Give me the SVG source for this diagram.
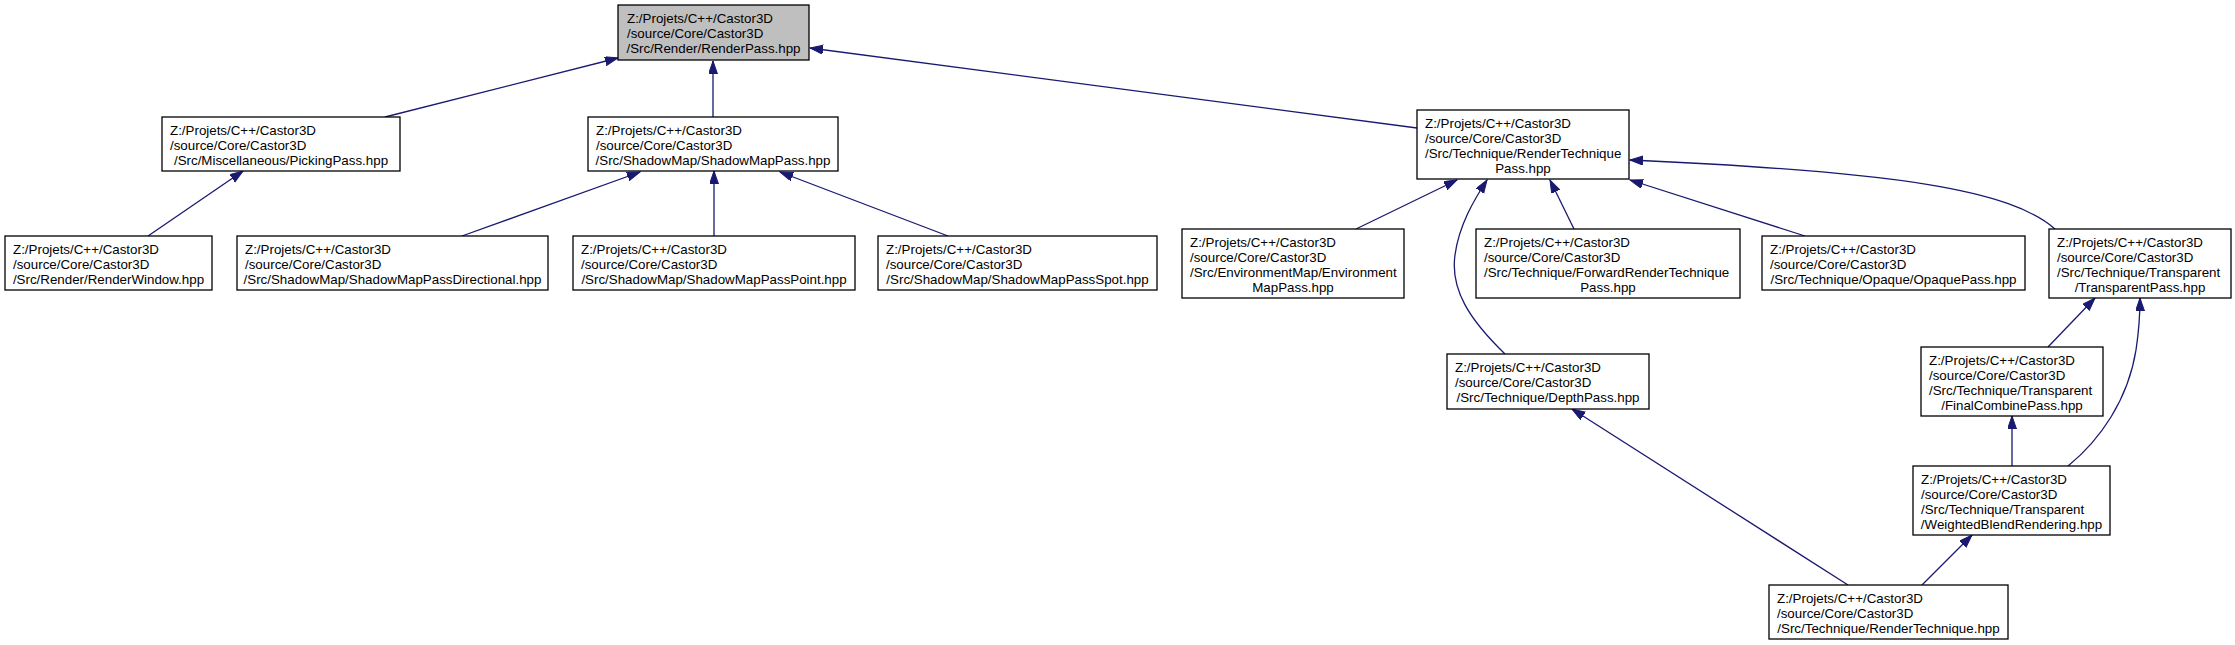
<svg xmlns="http://www.w3.org/2000/svg" width="2235" height="645" viewBox="0 0 2235 645">
<style>
.n rect{fill:#ffffff;stroke:#000000;stroke-width:1.3}
.root rect{fill:#bfbfbf}
.n text{font-family:"Liberation Sans",Arial,sans-serif;font-size:13.33px;fill:#000000}
.n text.c{text-anchor:middle}
.e path{fill:none;stroke:#191970;stroke-width:1.3;marker-end:url(#arr)}
</style>
<defs>
<marker id="arr" markerUnits="userSpaceOnUse" markerWidth="14" markerHeight="10" refX="13" refY="4.5" orient="auto">
<path d="M0,0 L13,4.5 L0,9 z" fill="#191970" stroke="#191970" stroke-width="1"/>
</marker>
</defs>
<rect width="2235" height="645" fill="#ffffff"/>
<g class="e" id="edges">
<path d="M385,117 L618,58"/>
<path d="M713,117 L713,61"/>
<path d="M1417,128 L810,48"/>
<path d="M148,236 L243,171"/>
<path d="M462,236 L640,172"/>
<path d="M714,236 L714,171"/>
<path d="M948,236 L780,172"/>
<path d="M1356,229 L1457,180"/>
<path d="M1505,354 C1470,320 1450,290 1455,255 C1459,225 1474,200 1487,180"/>
<path d="M1574,229 L1550,180"/>
<path d="M1805,236 L1630,180"/>
<path d="M2055,229 C2010,190 1900,172 1630,160"/>
<path d="M2048,347 L2095,298"/>
<path d="M2068,466 C2100,440 2128,400 2136,350 C2139,330 2140,315 2140,298"/>
<path d="M2012,466 L2012,416"/>
<path d="M1848,585 L1572,409"/>
<path d="M1922,585 L1972,535"/>
</g>
<g class="n root" id="node_renderpass">
<rect x="618" y="5" width="191" height="55"/>
<text x="627" y="23">Z:/Projets/C++/Castor3D</text>
<text x="627" y="38">/source/Core/Castor3D</text>
<text class="c" x="713.5" y="53">/Src/Render/RenderPass.hpp</text>
</g>
<g class="n" id="node_pickingpass">
<rect x="162" y="117" width="238" height="54"/>
<text x="170" y="135">Z:/Projets/C++/Castor3D</text>
<text x="170" y="150">/source/Core/Castor3D</text>
<text class="c" x="281" y="165">/Src/Miscellaneous/PickingPass.hpp</text>
</g>
<g class="n" id="node_shadowmappass">
<rect x="588" y="117" width="250" height="54"/>
<text x="596" y="135">Z:/Projets/C++/Castor3D</text>
<text x="596" y="150">/source/Core/Castor3D</text>
<text class="c" x="713" y="165">/Src/ShadowMap/ShadowMapPass.hpp</text>
</g>
<g class="n" id="node_rendertechniquepass">
<rect x="1417" y="110" width="212" height="69"/>
<text x="1425" y="128">Z:/Projets/C++/Castor3D</text>
<text x="1425" y="143">/source/Core/Castor3D</text>
<text x="1425" y="158">/Src/Technique/RenderTechnique</text>
<text class="c" x="1523" y="173">Pass.hpp</text>
</g>
<g class="n" id="node_renderwindow">
<rect x="5" y="236" width="207" height="54"/>
<text x="13" y="254">Z:/Projets/C++/Castor3D</text>
<text x="13" y="269">/source/Core/Castor3D</text>
<text class="c" x="108.5" y="284">/Src/Render/RenderWindow.hpp</text>
</g>
<g class="n" id="node_smpdirectional">
<rect x="237" y="236" width="311" height="54"/>
<text x="245" y="254">Z:/Projets/C++/Castor3D</text>
<text x="245" y="269">/source/Core/Castor3D</text>
<text class="c" x="392.5" y="284">/Src/ShadowMap/ShadowMapPassDirectional.hpp</text>
</g>
<g class="n" id="node_smppoint">
<rect x="573" y="236" width="282" height="54"/>
<text x="581" y="254">Z:/Projets/C++/Castor3D</text>
<text x="581" y="269">/source/Core/Castor3D</text>
<text class="c" x="714" y="284">/Src/ShadowMap/ShadowMapPassPoint.hpp</text>
</g>
<g class="n" id="node_smpspot">
<rect x="878" y="236" width="279" height="54"/>
<text x="886" y="254">Z:/Projets/C++/Castor3D</text>
<text x="886" y="269">/source/Core/Castor3D</text>
<text class="c" x="1017.5" y="284">/Src/ShadowMap/ShadowMapPassSpot.hpp</text>
</g>
<g class="n" id="node_envmappass">
<rect x="1182" y="229" width="222" height="69"/>
<text x="1190" y="247">Z:/Projets/C++/Castor3D</text>
<text x="1190" y="262">/source/Core/Castor3D</text>
<text x="1190" y="277">/Src/EnvironmentMap/Environment</text>
<text class="c" x="1293" y="292">MapPass.hpp</text>
</g>
<g class="n" id="node_forward">
<rect x="1476" y="229" width="264" height="69"/>
<text x="1484" y="247">Z:/Projets/C++/Castor3D</text>
<text x="1484" y="262">/source/Core/Castor3D</text>
<text x="1484" y="277">/Src/Technique/ForwardRenderTechnique</text>
<text class="c" x="1608" y="292">Pass.hpp</text>
</g>
<g class="n" id="node_opaque">
<rect x="1762" y="236" width="263" height="54"/>
<text x="1770" y="254">Z:/Projets/C++/Castor3D</text>
<text x="1770" y="269">/source/Core/Castor3D</text>
<text class="c" x="1893.5" y="284">/Src/Technique/Opaque/OpaquePass.hpp</text>
</g>
<g class="n" id="node_transparent">
<rect x="2049" y="229" width="182" height="69"/>
<text x="2057" y="247">Z:/Projets/C++/Castor3D</text>
<text x="2057" y="262">/source/Core/Castor3D</text>
<text x="2057" y="277">/Src/Technique/Transparent</text>
<text class="c" x="2140" y="292">/TransparentPass.hpp</text>
</g>
<g class="n" id="node_depth">
<rect x="1447" y="354" width="202" height="55"/>
<text x="1455" y="372">Z:/Projets/C++/Castor3D</text>
<text x="1455" y="387">/source/Core/Castor3D</text>
<text class="c" x="1548" y="402">/Src/Technique/DepthPass.hpp</text>
</g>
<g class="n" id="node_finalcombine">
<rect x="1921" y="347" width="182" height="69"/>
<text x="1929" y="365">Z:/Projets/C++/Castor3D</text>
<text x="1929" y="380">/source/Core/Castor3D</text>
<text x="1929" y="395">/Src/Technique/Transparent</text>
<text class="c" x="2012" y="410">/FinalCombinePass.hpp</text>
</g>
<g class="n" id="node_wbr">
<rect x="1913" y="466" width="197" height="69"/>
<text x="1921" y="484">Z:/Projets/C++/Castor3D</text>
<text x="1921" y="499">/source/Core/Castor3D</text>
<text x="1921" y="514">/Src/Technique/Transparent</text>
<text class="c" x="2011.5" y="529">/WeightedBlendRendering.hpp</text>
</g>
<g class="n" id="node_rendertechnique">
<rect x="1769" y="585" width="239" height="54"/>
<text x="1777" y="603">Z:/Projets/C++/Castor3D</text>
<text x="1777" y="618">/source/Core/Castor3D</text>
<text class="c" x="1888.5" y="633">/Src/Technique/RenderTechnique.hpp</text>
</g>
</svg>
